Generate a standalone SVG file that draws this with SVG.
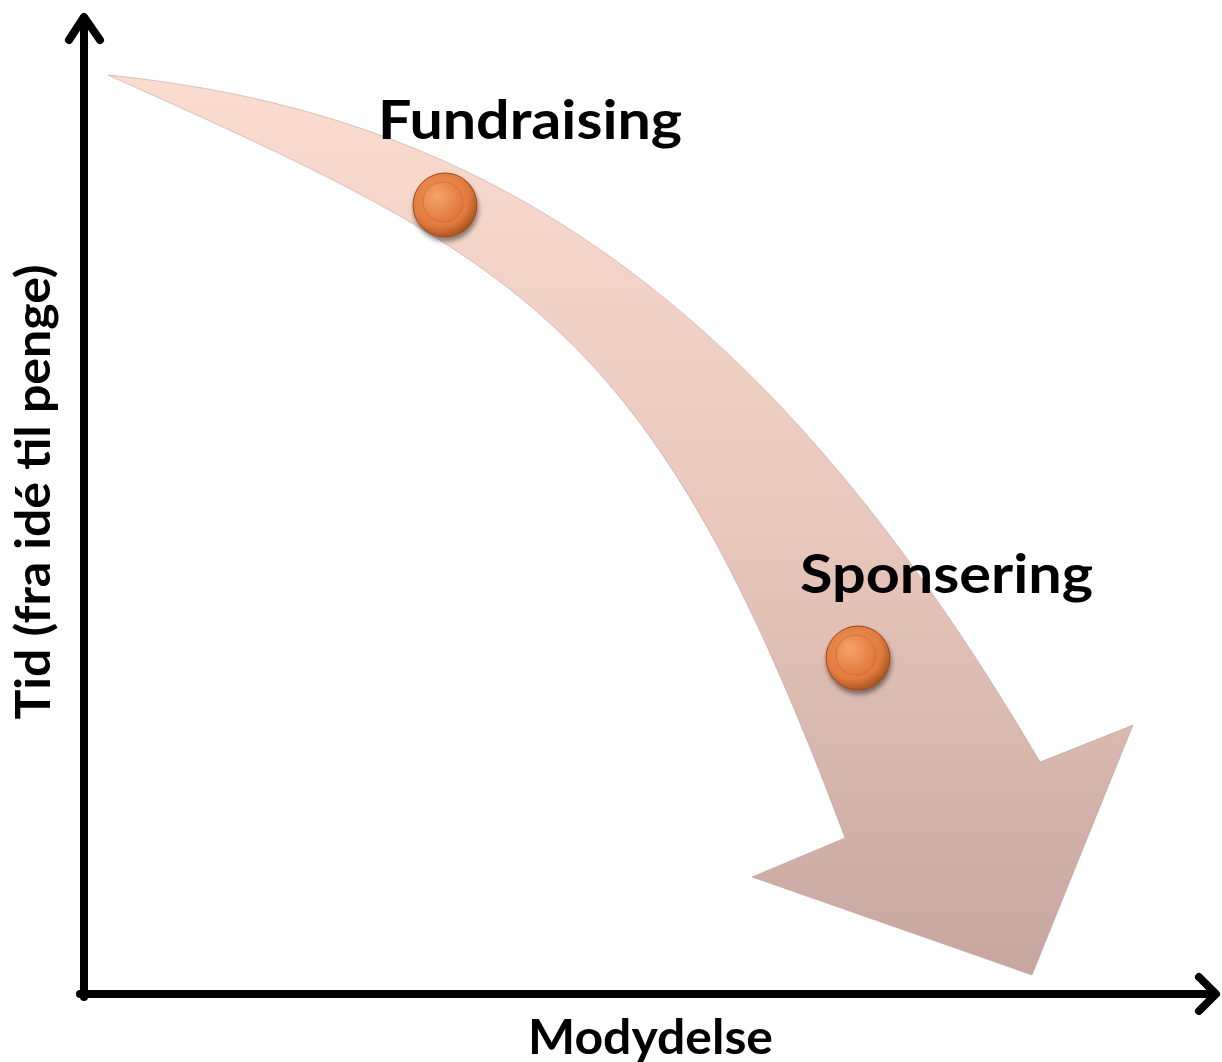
<svg xmlns="http://www.w3.org/2000/svg" width="1222" height="1062" viewBox="0 0 1222 1062">
  <style>
    .lbl { font-family: Lato, "Liberation Sans", Arial, sans-serif; font-weight: bold; fill: #000; }
    .axis { fill: none; stroke: #000; stroke-width: 8; stroke-linecap: round; stroke-linejoin: round; }
  </style>
  <defs>
    <linearGradient id="arrowFill" x1="0" y1="75" x2="0" y2="975" gradientUnits="userSpaceOnUse">
      <stop offset="0" stop-color="#fbdcd0"/>
      <stop offset="0.5" stop-color="#e9c7bc"/>
      <stop offset="1" stop-color="#c6a69f"/>
    </linearGradient>
    <radialGradient id="dotOuter" cx="0.42" cy="0.38" r="0.65">
      <stop offset="0" stop-color="#f29a5e"/>
      <stop offset="0.7" stop-color="#e07a3c"/>
      <stop offset="1" stop-color="#a3501f"/>
    </radialGradient>
    <radialGradient id="dotInner" cx="0.35" cy="0.35" r="0.75">
      <stop offset="0" stop-color="#f5a46a"/>
      <stop offset="1" stop-color="#df7336"/>
    </radialGradient>
    <filter id="shadow" x="-30%" y="-30%" width="160%" height="170%">
      <feGaussianBlur in="SourceAlpha" stdDeviation="2.5"/>
      <feOffset dx="1" dy="4" result="b"/>
      <feComponentTransfer><feFuncA type="linear" slope="0.45"/></feComponentTransfer>
      <feMerge><feMergeNode/><feMergeNode in="SourceGraphic"/></feMerge>
    </filter>
  </defs>

  <g id="curved-arrow">
    <path d="M108,75 C462,111 755,275 1040,762 L1133,725 L1032,975 L752,877 L845,838 C652,321 524,262 108,75 Z" fill="url(#arrowFill)" stroke="#b8948b" stroke-width="0.8" stroke-opacity="0.6"/>
  </g>

  <g id="axes">
    <path class="axis" d="M84,997 L84,18"/>
    <path class="axis" d="M69,40 L84,17 L100,40"/>
    <path class="axis" d="M80,994 L1214,994"/>
    <path class="axis" d="M1199,977 L1216,994 L1199,1011"/>
  </g>

  <g id="node-fundraising">
    <g filter="url(#shadow)">
      <circle cx="445" cy="205" r="32" fill="url(#dotOuter)" stroke="#9a4a1e" stroke-width="1"/>
      <circle cx="443" cy="202" r="20" fill="url(#dotInner)" stroke="#c8642c" stroke-width="1" stroke-opacity="0.6"/>
    </g>
    <text class="lbl" x="378" y="139" font-size="54" textLength="304" lengthAdjust="spacingAndGlyphs">Fundraising</text>
  </g>

  <g id="node-sponsering">
    <g filter="url(#shadow)">
      <circle cx="858" cy="658" r="32" fill="url(#dotOuter)" stroke="#9a4a1e" stroke-width="1"/>
      <circle cx="856" cy="655" r="20" fill="url(#dotInner)" stroke="#c8642c" stroke-width="1" stroke-opacity="0.6"/>
    </g>
    <text class="lbl" x="800" y="593" font-size="54" textLength="293" lengthAdjust="spacingAndGlyphs">Sponsering</text>
  </g>

  <g id="axis-labels">
    <text class="lbl" x="528" y="1054" font-size="48" textLength="245" lengthAdjust="spacingAndGlyphs">Modydelse</text>
    <text class="lbl" transform="translate(50,492) rotate(-90)" x="0" y="0" font-size="48" text-anchor="middle" textLength="455" lengthAdjust="spacingAndGlyphs">Tid (fra idé til penge)</text>
  </g>
</svg>
